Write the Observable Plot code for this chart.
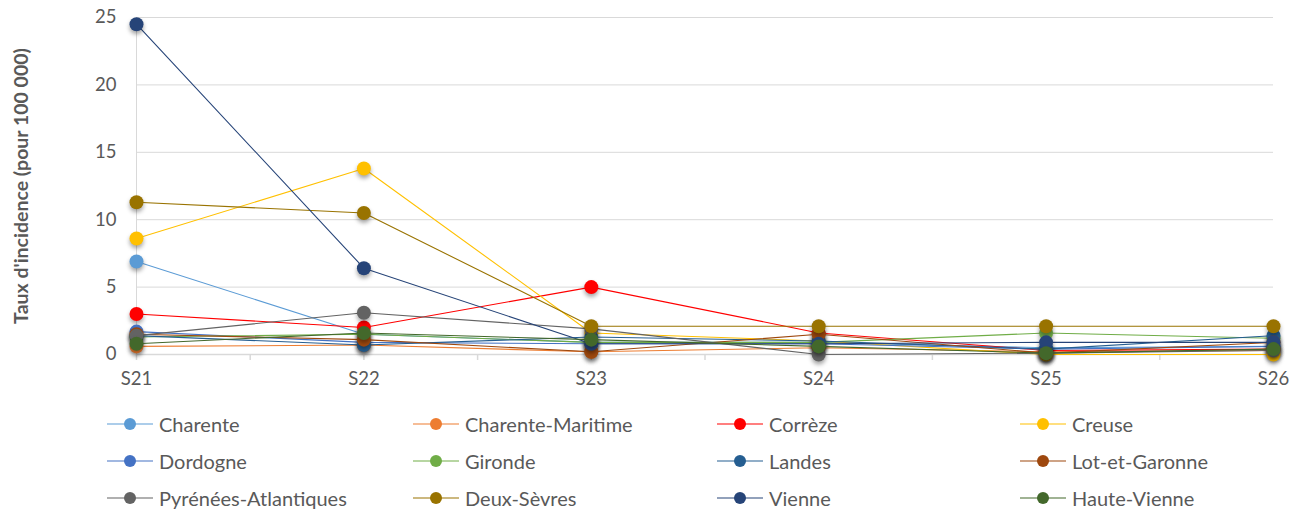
<!DOCTYPE html>
<html>
<head>
<meta charset="utf-8">
<script src="https://cdn.jsdelivr.net/npm/d3@7"></script>
<script src="https://cdn.jsdelivr.net/npm/@observablehq/plot@0.6"></script>
<style>
  html, body { margin: 0; padding: 0; background: #fff; }
  #wrap { position: relative; width: 1297px; height: 511px; font-family: Lato, "Open Sans", sans-serif; }
  #legend { position: absolute; left: 0; top: 0; width: 1297px; height: 511px; pointer-events: none; }
  .item { position: absolute; display: flex; align-items: center; height: 22px; font-size: 20px; color: #595959; }
  .item svg { margin-right: 6px; }
</style>
</head>
<body>
<div id="wrap"><div id="chart"></div><div id="legend"></div></div>
<script>
const weeks = ["S21", "S22", "S23", "S24", "S25", "S26"];
const departements = ["Charente", "Charente-Maritime", "Corrèze", "Creuse", "Dordogne", "Gironde", "Landes", "Lot-et-Garonne", "Pyrénées-Atlantiques", "Deux-Sèvres", "Vienne", "Haute-Vienne"];
const colors = ["#5B9BD5", "#ED7D31", "#FF0000", "#FFC000", "#4472C4", "#70AD47", "#255E91", "#9E480E", "#636363", "#997300", "#264478", "#43682B"];

const charente         = [6.9, 1.5, 0.9, 0.9, 0.5, 0.6];
const charenteMaritime = [0.6, 0.7, 0.2, 0.5, 0.2, 0.3];
const correze          = [3.0, 2.0, 5.0, 1.6, 0.3, 0.4];
const creuse           = [8.6, 13.8, 1.6, 1.0, 0.0, 0.0];
const dordogne         = [1.7, 0.9, 0.8, 0.8, 0.4, 0.6];
const gironde          = [1.3, 1.5, 0.9, 0.9, 1.6, 1.2];
const landes           = [1.4, 0.7, 1.3, 1.0, 0.4, 1.4];
const lotEtGaronne     = [1.5, 1.1, 0.2, 1.5, 0.1, 0.9];
const pyreneesAtl      = [1.4, 3.1, 1.9, 0.0, 0.1, 0.3];
const deuxSevres       = [11.3, 10.5, 2.1, 2.1, 2.1, 2.1];
const vienne           = [24.5, 6.4, 0.8, 0.8, 0.9, 0.9];
const hauteVienne      = [0.8, 1.6, 1.1, 0.6, 0.1, 0.4];

const series = [charente, charenteMaritime, correze, creuse, dordogne, gironde, landes, lotEtGaronne, pyreneesAtl, deuxSevres, vienne, hauteVienne];
const yTicks = [0, 5, 10, 15, 20, 25];
const yLabel = "Taux d'incidence (pour 100 000)";

const rows = [];
series.forEach((vals, s) => vals.forEach((v, i) => rows.push({dep: departements[s], s, week: weeks[i], i, v})));

const halfSteps = d3.range(0, weeks.length - 0.5 + 0.01, 0.5);

const seriesMarks = [];
departements.forEach((dep, s) => {
  const data = rows.filter(r => r.s === s);
  seriesMarks.push(Plot.line(data, {x: "i", y: "v", stroke: colors[s], strokeWidth: 1.1}));
  seriesMarks.push(Plot.dot(data, {x: "i", y: "v", fill: colors[s], r: 7, stroke: "none"}));
});

const chart = Plot.plot({
  width: 1297,
  height: 400,
  marginTop: 17,
  marginBottom: 46,
  marginLeft: 136,
  marginRight: 24,
  style: {fontFamily: "Lato, 'Open Sans', sans-serif", fontSize: "18.5px", color: "#595959", background: "white"},
  x: {domain: [0, weeks.length - 1]},
  y: {domain: [0, 25]},
  marks: [
    Plot.gridY(yTicks, {stroke: "#D9D9D9", strokeOpacity: 1, strokeWidth: 1}),
    Plot.ruleX([0], {stroke: "#D9D9D9", strokeWidth: 1}),
    Plot.ruleY([0], {stroke: "#D9D9D9", strokeWidth: 1.5}),
    Plot.axisX({ticks: halfSteps, tickSize: 6, tickFormat: () => "", stroke: "#D9D9D9", strokeWidth: 1.5, label: null}),
    Plot.axisX({ticks: d3.range(weeks.length), tickSize: 0, tickPadding: 17, tickFormat: i => weeks[i], fill: "#595959", label: null, fontSize: 18.5}),
    Plot.axisY({ticks: yTicks, tickSize: 0, tickPadding: 20, fill: "#595959", label: null, fontSize: 18.5}),
    Plot.text([yLabel], {frameAnchor: "left", dx: -115, rotate: -90, text: d => d, fill: "#595959", fontWeight: "bold", fontSize: 19.5, textAnchor: "middle"}),
    ...seriesMarks
  ]
});
document.getElementById("chart").appendChild(chart);
d3.select(chart).selectAll('g[aria-label="dot"]').style("filter", "drop-shadow(0px 3px 2px rgba(0,0,0,0.35))");

// legend
const legend = document.getElementById("legend");
const colX = [107, 413, 717, 1020];
const rowY = [425, 462, 499];
departements.forEach((dep, s) => {
  const c = s % 4, r = Math.floor(s / 4);
  const div = document.createElement("div");
  div.className = "item";
  div.style.left = colX[c] + "px";
  div.style.top = (rowY[r] - 12) + "px";
  div.innerHTML = `<svg width="46" height="16"><line x1="0" x2="46" y1="8" y2="8" stroke="${colors[s]}" stroke-width="1.2"/><circle cx="23" cy="8" r="6" fill="${colors[s]}"/></svg><span>${dep}</span>`;
  legend.appendChild(div);
});
</script>
</body>
</html>
